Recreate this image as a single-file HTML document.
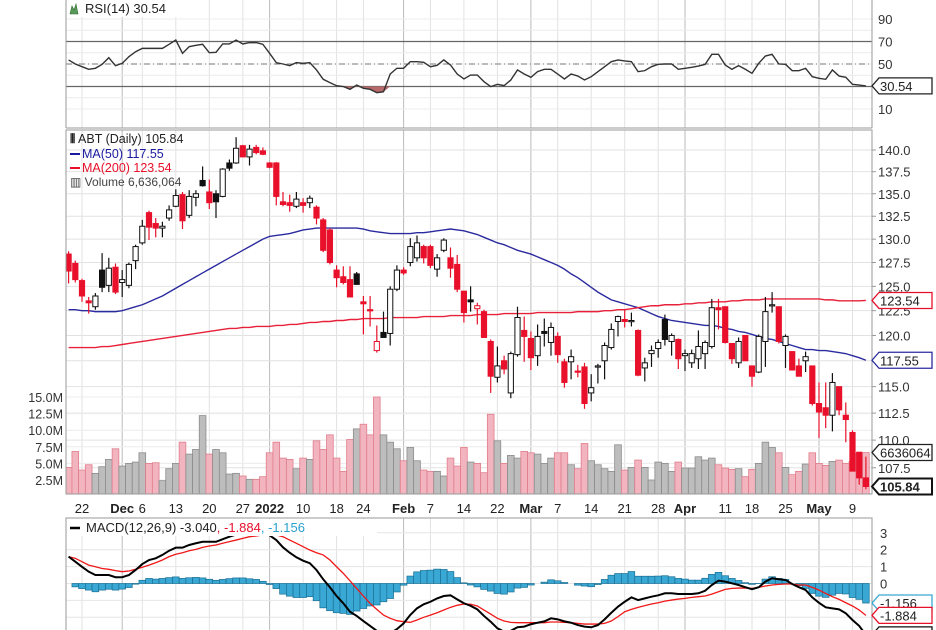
<!DOCTYPE html>
<html><head><meta charset="utf-8">
<style>
html,body{margin:0;padding:0;background:#fff;}
svg{display:block;font-family:"Liberation Sans",sans-serif;}
</style></head>
<body>
<svg id="chart" width="936" height="630" viewBox="0 0 936 630" xmlns="http://www.w3.org/2000/svg">
<defs>
<clipPath id="cPrice"><rect x="66" y="130" width="806" height="364"/></clipPath>
<clipPath id="cRsi"><rect x="66" y="0" width="806" height="128"/></clipPath>
<clipPath id="cMacd"><rect x="66" y="518" width="806" height="112"/></clipPath>
</defs>
<g id="grid"></g>
<g id="rsiG" clip-path="url(#cRsi)"></g>
<g id="volG" clip-path="url(#cPrice)"></g>
<g id="maG" clip-path="url(#cPrice)"></g>
<g id="candleG" clip-path="url(#cPrice)"></g>
<g id="macdG" clip-path="url(#cMacd)"></g>
<g id="frames">
<line x1="66" y1="0" x2="66" y2="128" stroke="#999"/>
<line x1="872" y1="0" x2="872" y2="128" stroke="#999"/>
<line x1="66" y1="128" x2="872" y2="128" stroke="#999"/>
<rect x="66" y="130" width="806" height="364" fill="none" stroke="#999"/>
<rect x="66" y="518" width="806" height="120" fill="none" stroke="#999"/>
</g>
<g id="axes"></g>
<g>
<rect x="67" y="0" width="130" height="17" fill="#fff"/>
<path d="M70 14 L72 6 L74 10 L76 4 L78 14 Z" fill="#5a9a5a" stroke="#2a6a2a" stroke-width="0.6"/>
<text x="85" y="13" font-size="13" fill="#222">RSI(14) 30.54</text>
</g>
<g>
<text x="70" y="143" font-size="12.5" fill="#222"><tspan font-weight="bold">⫴</tspan> ABT (Daily) 105.84</text>
<line x1="70" y1="154" x2="80" y2="154" stroke="#1a1aa0" stroke-width="2"/>
<text x="82" y="158" font-size="12.5" fill="#1a1aa0">MA(50) 117.55</text>
<line x1="70" y1="168" x2="80" y2="168" stroke="#e8102a" stroke-width="2"/>
<text x="82" y="172" font-size="12.5" fill="#e8102a">MA(200) 123.54</text>
<text x="70" y="186" font-size="12" fill="#444">▥ Volume 6,636,064</text>
</g>
<g>
<rect x="67" y="519" width="310" height="17" fill="#fff"/>
<line x1="70" y1="528" x2="80" y2="528" stroke="#000" stroke-width="2.5"/>
<text x="86" y="532" font-size="13" fill="#222">MACD(12,26,9) -3.040<tspan fill="#e8102a">, -1.884</tspan><tspan fill="#2aa0d0">, -1.156</tspan></text>
</g>
<g id="tags"></g>
</svg>
<script>
const openP=[128.4,127.4,125.6,123.5,122.9,126.7,125.1,127.0,125.4,125.1,127.7,129.6,132.9,131.7,131.2,132.3,133.6,134.9,132.6,134.6,136.5,135.2,135.0,134.7,138.5,138.5,140.5,139.2,140.3,139.9,138.5,138.5,134.1,134.0,133.6,134.0,134.0,133.5,132.1,131.0,126.7,126.0,125.7,126.3,123.4,122.6,118.5,120.3,120.2,124.7,126.7,127.5,128.0,129.2,129.2,126.8,128.8,128.0,127.3,124.5,123.6,122.7,122.4,119.4,115.9,117.5,114.4,118.1,120.5,119.7,118.0,120.4,119.3,119.9,117.4,117.4,116.5,116.9,114.4,116.9,117.5,118.8,121.4,121.6,121.4,120.5,116.8,118.2,118.7,121.6,119.4,119.6,118.0,117.3,117.7,118.2,118.9,122.8,122.9,119.2,117.3,120.0,117.0,116.4,119.4,123.0,122.9,119.0,118.4,117.0,117.5,117.0,113.4,113.0,112.3,115.0,112.3,110.7,108.9,106.6];
const highP=[128.7,127.7,125.8,123.9,124.3,128.5,128.0,127.4,126.7,127.5,129.4,132.1,133.1,132.3,131.9,133.7,135.5,135.2,135.4,135.4,138.1,136.6,135.4,137.9,138.9,141.5,140.6,140.6,140.6,140.3,138.6,138.6,135.2,134.9,135.2,134.5,134.8,133.7,132.3,131.2,127.2,127.1,127.1,126.5,124.0,124.0,121.0,122.4,125.0,127.2,127.0,130.1,130.4,129.4,129.4,128.4,130.1,129.1,128.3,124.5,125.0,123.3,122.6,119.6,118.9,118.0,118.4,122.9,121.9,120.4,121.1,121.7,121.3,120.3,117.7,118.6,117.1,117.3,116.2,117.2,119.3,121.2,122.0,122.6,122.3,120.6,117.8,119.0,119.6,122.1,120.2,119.7,118.6,118.6,120.5,119.5,123.7,123.7,122.9,119.2,119.8,120.0,117.0,120.1,123.9,124.4,122.9,120.1,118.4,117.7,118.4,117.0,115.4,115.4,116.3,115.0,113.5,110.9,108.9,108.5];
const lowP=[125.3,125.4,123.4,122.2,122.6,124.4,124.4,124.2,123.9,124.8,126.8,129.4,129.9,130.2,130.2,132.0,133.5,131.1,132.3,133.6,135.8,133.3,132.3,134.6,137.6,138.4,139.2,138.2,139.5,139.4,137.9,133.7,133.6,133.0,133.4,132.9,133.4,131.6,128.6,127.3,124.9,125.2,123.9,125.2,120.1,120.9,118.3,119.8,119.0,124.5,126.2,127.1,127.6,127.4,126.9,126.0,128.6,125.9,124.4,121.3,122.4,121.1,119.8,114.4,115.4,116.2,113.9,117.9,117.4,116.6,117.0,118.9,118.0,117.3,114.9,115.7,115.9,112.9,113.6,115.3,115.7,118.6,119.9,120.8,120.9,116.0,115.5,116.9,117.8,119.0,118.0,116.7,116.5,116.8,116.7,116.7,118.7,120.6,119.2,117.2,116.8,117.5,115.0,116.3,116.9,122.3,119.2,116.8,116.6,116.0,116.4,113.2,110.2,111.1,110.8,112.3,109.8,107.2,106.0,105.6];
const closeP=[126.6,125.7,124.0,123.3,124.0,124.9,126.9,124.4,125.7,127.3,129.2,131.4,131.3,131.2,131.4,133.2,134.8,132.0,134.7,135.0,135.9,134.0,134.1,137.8,137.9,140.2,139.2,140.1,139.7,139.5,138.0,134.7,133.8,133.7,134.4,133.7,134.5,132.3,128.8,127.5,125.9,125.4,123.9,125.2,123.2,122.5,119.4,119.8,124.7,126.7,126.4,129.2,129.6,128.0,127.2,128.0,129.9,126.9,124.7,122.3,123.4,123.0,119.8,116.0,117.0,116.7,118.2,121.8,119.9,117.8,119.9,120.2,120.8,118.1,115.4,117.9,116.4,113.4,114.9,117.0,119.0,120.6,121.9,121.4,121.5,116.1,117.3,118.5,119.3,119.6,120.0,117.7,118.2,118.2,118.9,119.3,122.8,122.6,119.3,117.7,119.4,117.5,116.0,119.9,122.4,123.1,119.4,119.9,116.6,116.0,117.9,113.4,112.6,112.3,115.4,112.8,111.9,107.2,106.6,105.84];
const volumeM=[4.4,6.8,4.0,4.8,3.5,4.5,5.6,7.2,4.6,5.0,5.2,6.6,5.0,5.1,2.4,4.2,5.0,8.2,6.4,7.1,12.2,6.4,7.1,6.6,3.4,3.5,3.1,2.6,2.6,3.0,6.6,8.2,5.8,5.6,4.2,5.8,5.6,8.4,7.1,9.3,5.8,3.8,8.6,10.2,10.9,9.3,15.0,9.3,8.2,7.2,5.4,7.4,5.4,4.0,3.8,3.8,3.1,5.8,4.6,7.4,5.2,5.0,3.6,12.4,8.4,5.0,6.2,5.8,6.8,6.6,6.4,5.0,5.8,6.6,6.6,4.8,4.2,8.0,5.4,4.8,4.2,3.8,7.8,4.0,4.4,5.5,4.4,2.5,5.2,5.0,3.8,5.2,4.3,4.3,6.0,5.5,5.8,4.8,4.3,4.1,4.2,3.0,4.1,5.0,8.2,7.4,6.6,4.4,3.3,3.8,4.9,6.6,5.0,4.7,5.3,5.5,5.0,5.3,6.5,6.636];
const ma50=[122.6,122.6,122.5,122.5,122.4,122.4,122.4,122.4,122.5,122.7,122.9,123.1,123.4,123.7,124.0,124.4,124.8,125.2,125.6,126.0,126.4,126.8,127.2,127.6,128.0,128.4,128.8,129.2,129.6,130.0,130.3,130.4,130.5,130.6,130.8,131.0,131.1,131.2,131.2,131.2,131.2,131.2,131.2,131.2,131.1,130.9,130.8,130.7,130.6,130.6,130.6,130.6,130.7,130.7,130.8,130.9,131.0,131.1,131.0,130.9,130.7,130.5,130.2,129.9,129.6,129.4,129.1,128.8,128.6,128.4,128.1,127.8,127.5,127.2,126.8,126.3,125.9,125.4,124.9,124.4,124.0,123.6,123.4,123.2,123.0,122.8,122.5,122.2,121.9,121.7,121.5,121.4,121.3,121.2,121.1,121.0,121.0,120.9,120.7,120.6,120.4,120.3,120.1,119.9,119.7,119.6,119.4,119.2,119.0,118.8,118.6,118.6,118.5,118.5,118.4,118.3,118.2,118.0,117.8,117.55];
const ma200=[118.8,118.8,118.8,118.8,118.8,118.9,118.9,119.0,119.1,119.2,119.3,119.4,119.5,119.6,119.7,119.8,119.9,120.0,120.1,120.2,120.3,120.4,120.5,120.6,120.7,120.7,120.8,120.8,120.9,120.9,120.9,121.0,121.0,121.1,121.1,121.2,121.3,121.3,121.4,121.4,121.5,121.5,121.6,121.6,121.7,121.7,121.7,121.7,121.8,121.8,121.8,121.8,121.8,121.9,121.9,121.9,121.9,122.0,122.0,122.0,122.0,122.1,122.1,122.1,122.1,122.2,122.2,122.2,122.2,122.2,122.3,122.3,122.3,122.3,122.3,122.3,122.4,122.4,122.4,122.4,122.5,122.5,122.6,122.6,122.7,122.8,122.9,123.0,123.0,123.1,123.1,123.1,123.2,123.2,123.3,123.3,123.4,123.4,123.4,123.5,123.5,123.6,123.6,123.6,123.7,123.7,123.7,123.7,123.7,123.7,123.7,123.7,123.7,123.6,123.6,123.5,123.5,123.5,123.5,123.54];
const rsi=[53.6,50,47.6,45.3,46.2,49.7,55.6,48.5,50.6,56.5,60.9,63.9,63.9,63.9,63.9,67.5,71.3,59.5,65.4,66.6,67.5,60.1,60.4,67.8,67.8,71.3,67.8,69,69,67.5,59.5,51.2,50,48.5,51.2,50.6,51.2,44.7,36.4,33.4,30.7,30,27.5,31.3,28.4,27.5,24.5,25.3,41.1,46.2,46.2,52.1,52.1,51.5,47.6,48.8,53.6,49.1,41.1,36.7,40.2,40.2,34.3,29.9,31.9,30.8,35.8,44.7,41.1,38.2,43.2,45.3,45.3,41.1,36.7,41.1,39.3,35.8,38.7,43.2,47.6,52.1,53.6,52.7,52.1,43.2,44.1,47.6,49.7,50,50,45.3,46.2,47.1,48.2,49.7,58.6,58.6,49.1,45.3,48.5,45.3,41.7,50.6,57.1,58.6,50,49.7,44.1,44.1,46.2,38.7,37.3,36.4,44.7,39.3,38.2,31.9,31.3,30.54];
const macd=[1.59,1.29,0.99,0.70,0.50,0.50,0.50,0.37,0.37,0.50,0.80,1.15,1.39,1.49,1.69,1.94,2.12,2.12,2.28,2.38,2.47,2.47,2.47,2.62,2.77,2.90,3.00,3.05,3.05,3.00,2.85,2.57,2.14,1.82,1.55,1.35,1.20,0.80,0.25,-0.22,-0.74,-1.17,-1.67,-1.92,-2.22,-2.51,-2.80,-2.95,-2.95,-2.70,-2.36,-1.86,-1.47,-1.23,-1.08,-0.88,-0.74,-0.70,-0.94,-1.17,-1.32,-1.53,-1.92,-2.26,-2.65,-2.85,-2.80,-2.59,-2.55,-2.41,-2.32,-2.24,-2.06,-2.12,-2.24,-2.32,-2.46,-2.55,-2.59,-2.46,-2.12,-1.73,-1.37,-1.08,-0.82,-0.98,-0.88,-0.78,-0.70,-0.58,-0.58,-0.62,-0.62,-0.62,-0.58,-0.43,-0.09,0.17,0.11,0.01,-0.09,-0.22,-0.34,-0.22,0.11,0.31,0.25,0.21,-0.03,-0.22,-0.38,-0.82,-1.14,-1.41,-1.47,-1.53,-1.76,-2.16,-2.51,-3.04];
const signal=[1.59,1.49,1.29,1.09,0.99,0.89,0.84,0.76,0.70,0.74,0.84,0.96,1.09,1.23,1.39,1.59,1.73,1.82,1.94,2.02,2.14,2.22,2.28,2.38,2.48,2.57,2.67,2.77,2.81,2.87,2.91,2.87,2.77,2.57,2.38,2.18,1.98,1.82,1.69,1.39,0.99,0.60,0.16,-0.29,-0.74,-1.18,-1.53,-1.87,-2.06,-2.20,-2.26,-2.30,-2.16,-2.00,-1.87,-1.73,-1.57,-1.41,-1.29,-1.21,-1.23,-1.33,-1.57,-1.81,-2.06,-2.22,-2.30,-2.32,-2.32,-2.32,-2.32,-2.32,-2.28,-2.28,-2.30,-2.32,-2.36,-2.40,-2.40,-2.40,-2.36,-2.22,-1.96,-1.67,-1.53,-1.41,-1.31,-1.21,-1.14,-1.04,-0.98,-0.92,-0.88,-0.82,-0.78,-0.74,-0.63,-0.49,-0.35,-0.29,-0.27,-0.27,-0.29,-0.23,-0.15,-0.09,-0.05,-0.03,-0.03,-0.09,-0.09,-0.23,-0.39,-0.59,-0.78,-0.94,-1.14,-1.33,-1.57,-1.884];
const tickIdx=[2,8,11,16,21,26,30,35,40,44,50,54,59,64,69,73,78,83,88,92,98,102,107,112,117];
const tickLabels=["22","Dec","6","13","20","27","2022","10","18","24","Feb","7","14","22","Mar","7","14","21","28","Apr","11","18","25","May","9"];
const tickMajor=[0,1,0,0,0,0,1,0,0,0,1,0,0,0,1,0,0,0,0,1,0,0,0,1,0];
const priceTicks=[140.0,137.5,135.0,132.5,130.0,127.5,125.0,122.5,120.0,117.5,115.0,112.5,110.0,107.5];
const volTicks=[15.0,12.5,10.0,7.5,5.0,2.5];
const rsiTicks=[90,70,50,10];
const macdTicks=[3,2,1,0];

const NS="http://www.w3.org/2000/svg";
const X=i=>68.6+6.7*i;
const PY=p=>150+1203*Math.log(140/p);
const VY=m=>496.6-6.64*m;
const RY=v=>64-(v-50)*1.125;
const MY=v=>583.5-16.9*v;
function mk(tag,attrs,parent,txt){const e=document.createElementNS(NS,tag);for(const k in attrs)e.setAttribute(k,attrs[k]);if(txt!==undefined)e.textContent=txt;parent.appendChild(e);return e;}
const grid=document.getElementById('grid'),axes=document.getElementById('axes');

tickIdx.forEach((ti,k)=>{
  const x=X(ti);
  [[0,128],[130,494],[518,630]].forEach(r=>{
    const l=mk('line',{x1:x,x2:x,y1:r[0],y2:r[1],stroke:tickMajor[k]?'#bbb':'#e2e2e2'},grid);
    
    
  });
  const t=mk('text',{x:x,y:513,'font-size':13,'text-anchor':'middle',fill:'#222','font-weight':tickMajor[k]?'bold':'normal'},axes,tickLabels[k]);
  
  
});
priceTicks.forEach(p=>{
  const y=PY(p);
  const l=mk('line',{x1:66,x2:872,y1:y,y2:y,stroke:'#e2e2e2'},grid);
  
  
  mk('line',{x1:872,x2:876,y1:y,y2:y,stroke:'#999'},axes);
  const t=mk('text',{x:878,y:y+5,'font-size':13,fill:'#333'},axes,p.toFixed(1));
  
  
});
volTicks.forEach(m=>{
  const y=VY(m);
  mk('line',{x1:66,x2:872,y1:y,y2:y,stroke:'#ececec'},grid);
  const t=mk('text',{x:63,y:y+5,'font-size':12.5,fill:'#333','text-anchor':'end'},axes,m.toFixed(1)+'M');
  
  
});
[10,20,30,40,50,60,70,80,90].forEach(v=>{mk('line',{x1:66,x2:872,y1:RY(v),y2:RY(v),stroke:'#ececec'},grid);});
rsiTicks.forEach(v=>{
  const t=mk('text',{x:878,y:RY(v)+5,'font-size':13,fill:'#333'},axes,String(v));
  
  
});
[-3,-2,-1,0,1,2,3].forEach(v=>{mk('line',{x1:66,x2:872,y1:MY(v),y2:MY(v),stroke:'#e6e6e6'},grid);});
macdTicks.forEach(v=>{
  const t=mk('text',{x:880,y:MY(v)+5,'font-size':13,fill:'#333'},axes,String(v));
  
  
});

const rsiG=document.getElementById('rsiG');
mk('line',{x1:66,x2:872,y1:RY(70),y2:RY(70),stroke:'#666','stroke-width':1.3},rsiG);
mk('line',{x1:66,x2:872,y1:RY(30),y2:RY(30),stroke:'#666','stroke-width':1.3},rsiG);
mk('line',{x1:66,x2:872,y1:RY(50),y2:RY(50),stroke:'#777','stroke-dasharray':'6 3 1 3'},rsiG);
(function(){
  let pts=[];
  for(let i=0;i<rsi.length;i++){pts.push(X(i)+','+Math.max(RY(rsi[i]),RY(30)));}
  const poly=mk('polygon',{points:X(0)+','+RY(30)+' '+pts.join(' ')+' '+X(rsi.length-1)+','+RY(30),fill:'#b86a6a'},rsiG);
  
  
})();
const rl=mk('polyline',{points:rsi.map((v,i)=>X(i)+','+RY(v)).join(' '),fill:'none',stroke:'#333','stroke-width':1.4},rsiG);



const volG=document.getElementById('volG');
volumeM.forEach((m,i)=>{
  const down=i>0?closeP[i]<closeP[i-1]:true;
  const y=VY(m);
  const r=mk('rect',{x:X(i)-3.35,y:y,width:6.7,height:494-y,fill:down?'#f2b5bf':'#bdbdbd',stroke:down?'#e07d8c':'#8c8c8c','stroke-width':0.8},volG);
  
  
});

const maG=document.getElementById('maG');
const m50=mk('polyline',{points:ma50.map((v,i)=>X(i)+','+PY(v)).join(' '),fill:'none',stroke:'#2b2ba0','stroke-width':1.4},maG);


const m200=mk('polyline',{points:ma200.map((v,i)=>X(i)+','+PY(v)).join(' '),fill:'none',stroke:'#e8203a','stroke-width':1.4},maG);



const cG=document.getElementById('candleG');
closeP.forEach((c,i)=>{
  const o=openP[i];
  const red=i>0?c<closeP[i-1]:true;
  const col=red?'#e8102a':'#111';
  const hollow=c>o;
  const x=X(i);
  const w=mk('line',{x1:x,x2:x,y1:PY(highP[i]),y2:PY(lowP[i]),stroke:col,'stroke-width':1.2},cG);
  
  
  const yt=PY(Math.max(o,c)),yb=PY(Math.min(o,c));
  const b=mk('rect',{x:x-2.6,y:yt,width:5.2,height:Math.max(1.2,yb-yt),fill:hollow?'#fff':col,stroke:col,'stroke-width':1},cG);
  
  
});

const mG=document.getElementById('macdG');
macd.forEach((v,i)=>{
  const h=v-signal[i];
  const y0=MY(0),y1=MY(h);
  const r=mk('rect',{x:X(i)-3.35,y:Math.min(y0,y1),width:6.7,height:Math.abs(y1-y0),fill:'#3aa8d4',stroke:'#1a6f94','stroke-width':0.7},mG);
  
  
});
const sl=mk('polyline',{points:signal.map((v,i)=>X(i)+','+MY(v)).join(' '),fill:'none',stroke:'#f01818','stroke-width':1.3},mG);


const ml=mk('polyline',{points:macd.map((v,i)=>X(i)+','+MY(v)).join(' '),fill:'none',stroke:'#000','stroke-width':2},mG);



const tags=document.getElementById('tags');
function tag(y,txt,col,bold,name){
  const g=mk('g',{},tags);
  
  
  mk('polygon',{points:`872,${y} 879,${y-8} 932,${y-8} 932,${y+8} 879,${y+8}`,fill:'#fff',stroke:col,'stroke-width':bold?2:1.3},g);
  mk('text',{x:880,y:y+5,'font-size':13,fill:'#222','font-weight':bold?'bold':'normal'},g,txt);
}
tag(RY(rsi[rsi.length-1]),'30.54','#222',false,'rsi-value-tag');
tag(PY(ma200[ma200.length-1]),'123.54','#e8102a',false,'ma200-value-tag');
tag(PY(ma50[ma50.length-1]),'117.55','#2b2ba0',false,'ma50-value-tag');
tag(VY(volumeM[volumeM.length-1]),'6636064','#222',false,'volume-value-tag');
tag(PY(closeP[closeP.length-1]),'105.84','#111',true,'close-value-tag');
tag(MY(macd[macd.length-1]-signal[signal.length-1]),'-1.156','#3aa8d4',false,'macd-hist-tag');
tag(MY(signal[signal.length-1]),'-1.884','#e8102a',false,'macd-signal-tag');
tag(MY(macd[macd.length-1]),'-3.040','#111',false,'macd-value-tag');
</script>
</body></html>
